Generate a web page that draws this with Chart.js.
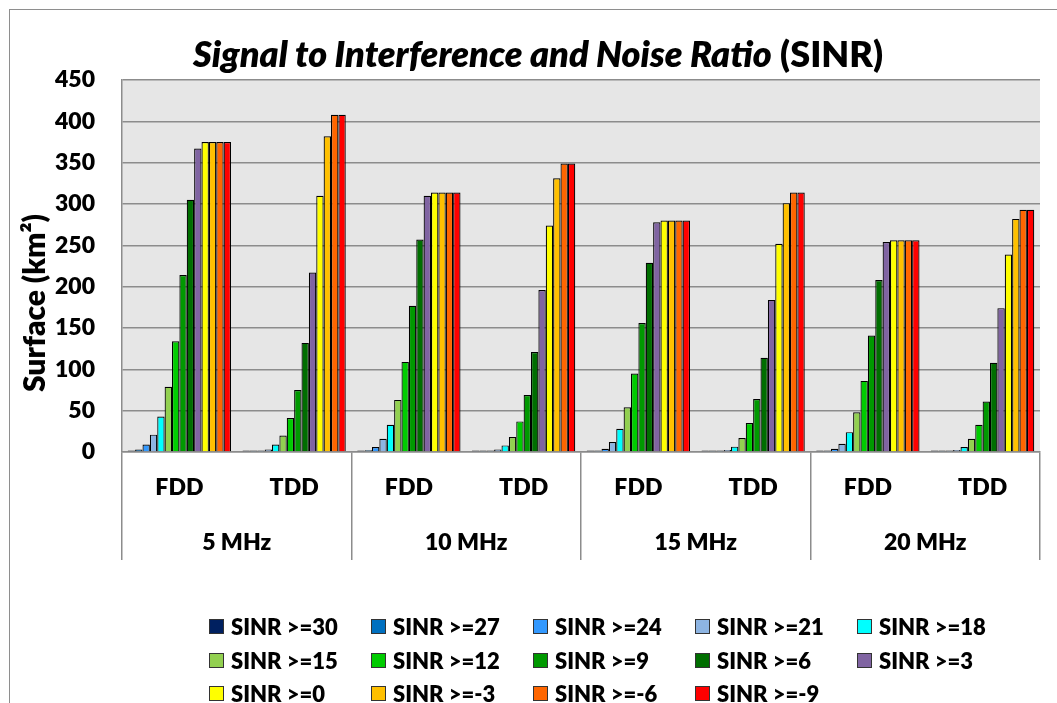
<!DOCTYPE html>
<html>
<head>
<meta charset="utf-8">
<title>SINR</title>
<script src="https://cdn.jsdelivr.net/npm/chart.js@4.4.1/dist/chart.umd.min.js"></script>
<style>
body { margin: 0; background: #fff; overflow: hidden; font-family: Lato, sans-serif; }
#wrap { position: relative; width: 1057px; height: 703px; overflow: hidden; }
#frame { position: absolute; left: 9px; top: 9px; width: 1100px; height: 800px; border: 1.5px solid #8e8e8e; }
#title { position: absolute; left: 0; top: 35px; width: 1076px; text-align: center; font-weight: 800; font-size: 36px; line-height: 36px; color: #000; }
#ytitle { position: absolute; left: -117px; top: 288px; width: 300px; height: 30px; line-height: 30px; text-align: center; font-weight: 800; font-size: 30px; color: #000; transform: rotate(-90deg); }
#myChart { position: absolute; left: 0; top: 0; }
#legend { position: absolute; left: 209px; top: 610px; display: grid; grid-template-columns: repeat(5, 162px); }
.item { display: flex; align-items: center; height: 33.5px; font-weight: 800; font-size: 22px; white-space: nowrap; color: #000; }
.box { width: 15px; height: 15px; box-sizing: border-box; border: 1.5px solid #333; margin-right: 7px; }
</style>
</head>
<body>
<div id="wrap">
  <div id="frame"></div>
  <canvas id="myChart" width="1057" height="703"></canvas>
  <div id="title"><i>Signal to Interference and Noise Ratio</i> (SINR)</div>
  <div id="ytitle">Surface (km²)</div>
  <div id="legend"></div>
</div>
<script>
// categories
const modes = ['FDD', 'TDD', 'FDD', 'TDD', 'FDD', 'TDD', 'FDD', 'TDD'];
const bandwidths = ['5 MHz', '10 MHz', '15 MHz', '20 MHz'];
const yMax = 450;
const yStep = 50;

// surface (km2) per category: 5F, 5T, 10F, 10T, 15F, 15T, 20F, 20T
const sinr30 = [1, 0.3, 0.5, 0.3, 0.5, 0.3, 0.5, 0.3];
const sinr27 = [3, 0.5, 2, 0.5, 1.5, 0.5, 1.5, 0.5];
const sinr24 = [9, 1, 6, 1.5, 4, 1, 4, 1];
const sinr21 = [21, 3, 16, 3, 12, 2.5, 10, 2.5];
const sinr18 = [43, 9, 33, 8, 28, 6.5, 24, 6];
const sinr15 = [79, 20, 63, 18, 54, 17, 48, 16];
const sinr12 = [134, 41, 109, 37, 95, 35, 86, 33];
const sinr9 = [214, 75, 177, 69, 156, 64, 141, 61];
const sinr6 = [305, 132, 257, 121, 229, 114, 208, 108];
const sinr3 = [367, 217, 310, 196, 278, 184, 254, 174];
const sinr0 = [375, 310, 314, 274, 280, 252, 256, 239];
const sinrM3 = [375, 382, 314, 331, 280, 301, 256, 282];
const sinrM6 = [375, 408, 314, 349, 280, 314, 256, 293];
const sinrM9 = [375, 408, 314, 349, 280, 314, 256, 293];

const seriesNames = ['SINR >=30', 'SINR >=27', 'SINR >=24', 'SINR >=21', 'SINR >=18',
  'SINR >=15', 'SINR >=12', 'SINR >=9', 'SINR >=6', 'SINR >=3',
  'SINR >=0', 'SINR >=-3', 'SINR >=-6', 'SINR >=-9'];
const seriesValues = [sinr30, sinr27, sinr24, sinr21, sinr18, sinr15, sinr12,
  sinr9, sinr6, sinr3, sinr0, sinrM3, sinrM6, sinrM9];
const seriesColors = ['#002060', '#0070c0', '#3399ff', '#8db4e2', '#00ffff',
  '#92d050', '#00cc00', '#009900', '#006e00', '#8064a2',
  '#ffff00', '#ffc000', '#ff6600', '#ff0000'];

const gridGray = '#8c8c8c';
const font = 'Lato';

// grey plot area background
const plotBg = {
  id: 'plotBg',
  beforeDraw(chart) {
    const a = chart.chartArea;
    const c = chart.ctx;
    c.save();
    c.fillStyle = '#e6e6e6';
    c.fillRect(a.left, a.top, a.right - a.left, a.bottom - a.top);
    c.restore();
  }
};

const datasets = seriesNames.map((name, i) => ({
  label: name,
  data: seriesValues[i],
  backgroundColor: seriesColors[i],
  borderColor: '#000',
  borderWidth: 1.2,
  minBarLength: 1.5,
  barPercentage: 1,
  categoryPercentage: 0.9
}));

const ctx = document.getElementById('myChart').getContext('2d');
const myChart = new Chart(ctx, {
  type: 'bar',
  data: { labels: modes, datasets: datasets },
  plugins: [plotBg],
  options: {
    responsive: false,
    animation: false,
    devicePixelRatio: 1,
    layout: { padding: { left: 16, top: 80, right: 17, bottom: 143 } },
    plugins: {
      legend: { display: false },
      title: { display: false },
      tooltip: { enabled: false }
    },
    scales: {
      y: {
        min: 0,
        max: yMax,
        ticks: { stepSize: yStep, padding: 27, color: '#000', font: { family: font, size: 23, weight: 800 } },
        grid: { color: gridGray, lineWidth: 1.5, drawTicks: false },
        border: { display: true, color: gridGray, width: 1.5 },
        afterFit(scale) { scale.width = 106; }
      },
      x: {
        offset: true,
        grid: {
          offset: true,
          drawOnChartArea: false,
          drawTicks: true,
          tickLength: 108,
          lineWidth: 1.5,
          color: c => (c.index === undefined || c.index % 2 === 0) ? gridGray : 'rgba(0,0,0,0)'
        },
        border: { display: true, color: gridGray, width: 1.5 },
        ticks: { padding: -85.8, maxRotation: 0, autoSkip: false, color: '#000', font: { family: font, size: 23, weight: 800 } },
        afterFit(scale) { scale.height = 63; }
      },
      x2: {
        type: 'category',
        position: 'bottom',
        labels: bandwidths,
        offset: true,
        grid: { display: false, drawTicks: false },
        border: { display: false },
        ticks: { padding: 14.2, maxRotation: 0, autoSkip: false, color: '#000', font: { family: font, size: 23, weight: 800 } },
        afterFit(scale) { scale.height = 45; }
      }
    }
  }
});

// html legend, laid out in columns like the original
const legendEl = document.getElementById('legend');
myChart.data.datasets.forEach(ds => {
  const item = document.createElement('div');
  item.className = 'item';
  const box = document.createElement('span');
  box.className = 'box';
  box.style.background = ds.backgroundColor;
  const txt = document.createElement('span');
  txt.textContent = ds.label;
  item.appendChild(box);
  item.appendChild(txt);
  legendEl.appendChild(item);
});
</script>
</body>
</html>
